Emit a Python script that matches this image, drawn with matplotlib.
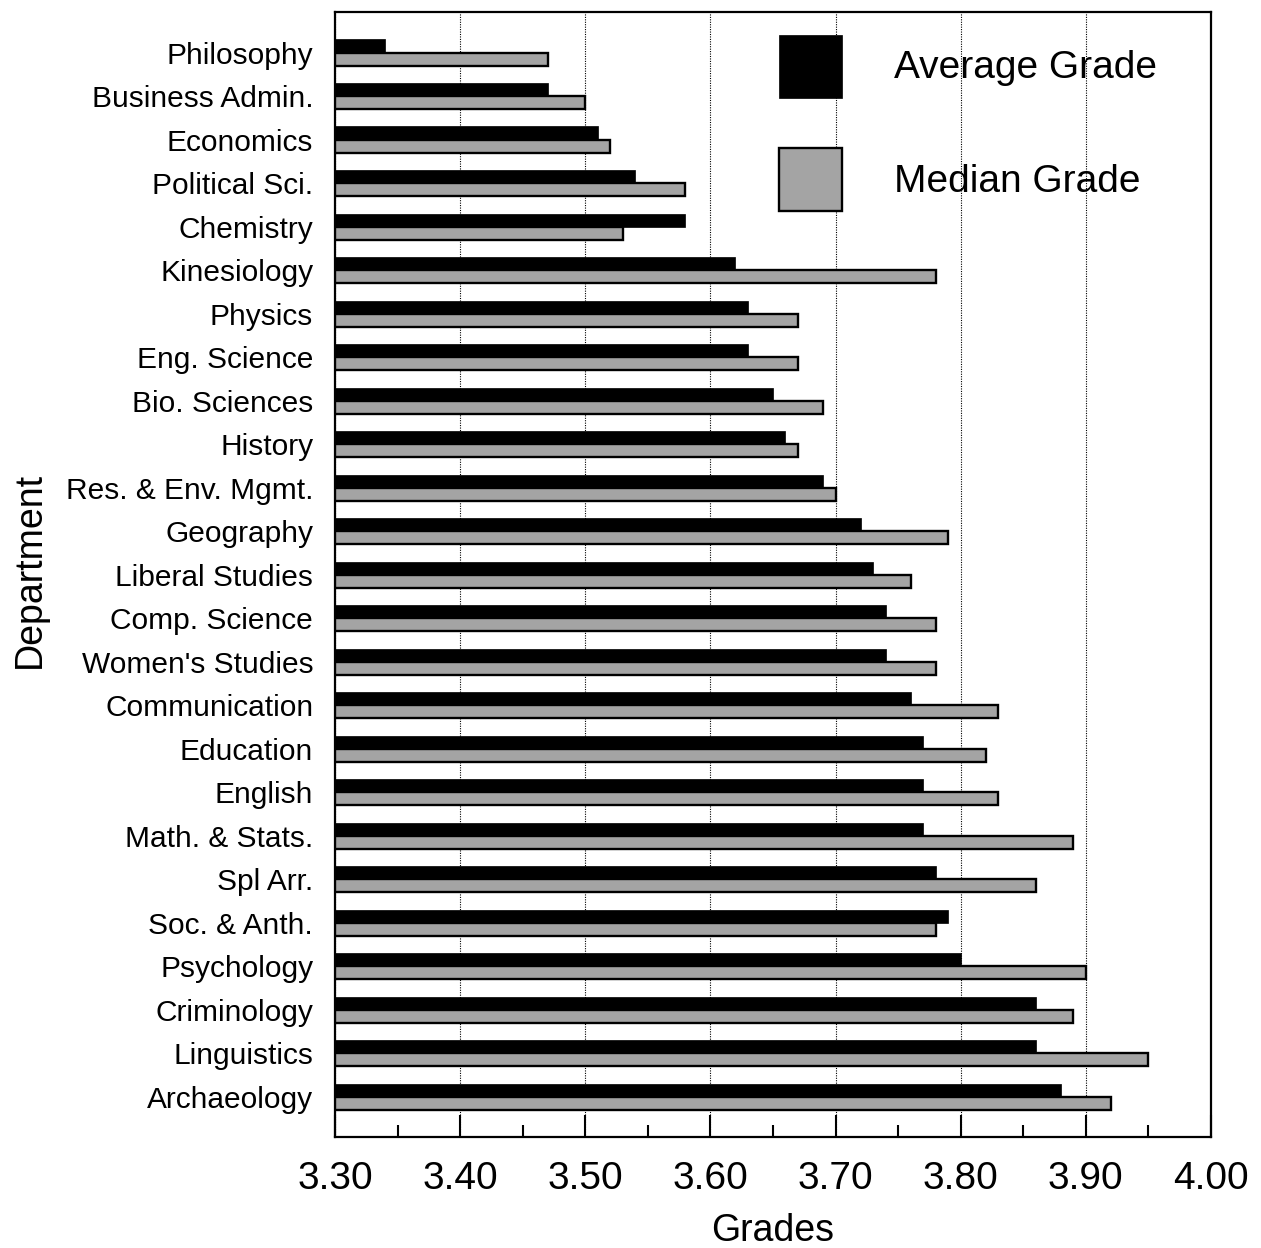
import matplotlib
matplotlib.use("Agg")
import matplotlib.pyplot as plt
import numpy as np
from matplotlib.ticker import MultipleLocator, FormatStrFormatter

plt.rcParams['font.family'] = ['Liberation Sans', 'DejaVu Sans']

departments = ["Philosophy", "Business Admin.", "Economics", "Political Sci.", "Chemistry",
               "Kinesiology", "Physics", "Eng. Science", "Bio. Sciences", "History",
               "Res. & Env. Mgmt.", "Geography", "Liberal Studies", "Comp. Science",
               "Women's Studies", "Communication", "Education", "English", "Math. & Stats.",
               "Spl Arr.", "Soc. & Anth.", "Psychology", "Criminology", "Linguistics",
               "Archaeology"]
average_grade = [3.34, 3.47, 3.51, 3.54, 3.58, 3.62, 3.63, 3.63, 3.65, 3.66,
                 3.69, 3.72, 3.73, 3.74, 3.74, 3.76, 3.77, 3.77, 3.77, 3.78,
                 3.79, 3.80, 3.86, 3.86, 3.88]
median_grade = [3.47, 3.50, 3.52, 3.58, 3.53, 3.78, 3.67, 3.67, 3.69, 3.67,
                3.70, 3.79, 3.76, 3.78, 3.78, 3.83, 3.82, 3.83, 3.89, 3.86,
                3.78, 3.90, 3.89, 3.95, 3.92]
x_ticks = [3.30, 3.40, 3.50, 3.60, 3.70, 3.80, 3.90, 4.00]

fig = plt.figure(figsize=(12.61, 12.48), dpi=100)
ax = fig.add_axes([0.266, 0.089, 0.694, 0.901])

y = np.arange(len(departments))
base = x_ticks[0]
h = 0.3
avg = np.array(average_grade)
med = np.array(median_grade)
ax.barh(y - h / 2, avg - base, left=base, height=h, color='black',
        edgecolor='black', linewidth=0.5, label='Average Grade', zorder=3)
ax.barh(y + h / 2, med - base, left=base, height=h, color='#a4a4a4',
        edgecolor='black', linewidth=1.7, label='Median Grade', zorder=3)

ax.set_xlim(x_ticks[0], x_ticks[-1])
ax.set_ylim(len(departments) - 1 + 0.92, -0.92)
ax.set_xticks(x_ticks)
ax.xaxis.set_major_formatter(FormatStrFormatter('%.2f'))
ax.xaxis.set_minor_locator(MultipleLocator(0.05))
ax.set_yticks(y)
ax.set_yticklabels(departments)

ax.tick_params(axis='x', which='major', direction='in', length=16, width=1.5,
               labelsize=28, pad=17)
ax.tick_params(axis='x', which='minor', direction='in', length=9, width=1.5)
ax.tick_params(axis='y', which='both', length=0, labelsize=21.5, pad=16)

ax.grid(axis='x', which='major', linestyle=(0, (1, 1.2)), color='black', linewidth=0.8)
ax.set_axisbelow(True)
for s in ax.spines.values():
    s.set_linewidth(1.6)

ax.set_xlabel('Grades', fontsize=27, labelpad=12)
ax.set_ylabel('Department', fontsize=27)
ax.yaxis.set_label_coords(-0.329, 0.504)

leg = ax.legend(loc='upper left', bbox_to_anchor=(0.4976, 0.9873), frameon=False,
                fontsize=28, handlelength=1.62, handleheight=2.12,
                handletextpad=1.34, labelspacing=1.29, borderpad=0.2,
                borderaxespad=0)

fig.savefig('out.png', dpi=100, facecolor='white')
